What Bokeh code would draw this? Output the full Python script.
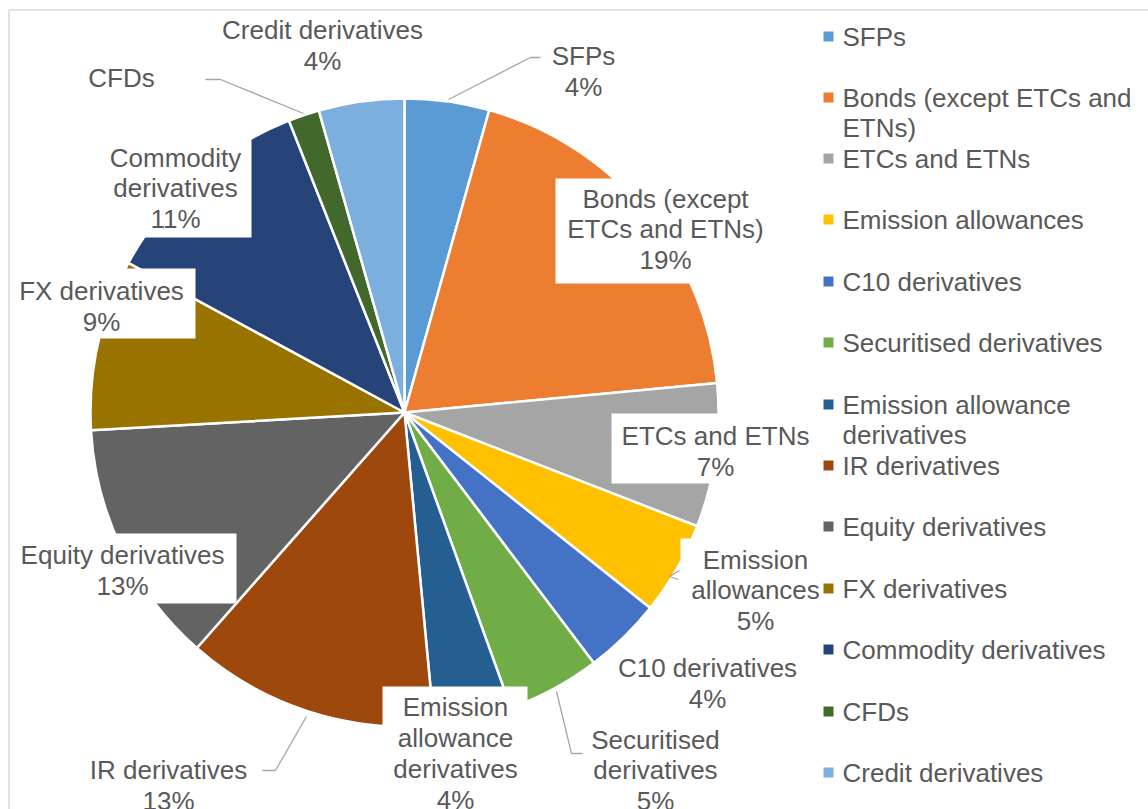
import numpy as np
from bokeh.plotting import figure
from bokeh.models import Range1d, ColumnDataSource
from bokeh.core.properties import value
from bokeh.embed import file_html
from bokeh.resources import INLINE

# ---------------- data ----------------
categories = ["SFPs", "Bonds (except ETCs and ETNs)", "ETCs and ETNs", "Emission allowances",
              "C10 derivatives", "Securitised derivatives", "Emission allowance derivatives",
              "IR derivatives", "Equity derivatives", "FX derivatives", "Commodity derivatives",
              "CFDs", "Credit derivatives"]
shares = [4.35, 19.15, 7.4, 4.8, 4.0, 4.8, 4.0, 13.0, 12.6, 8.8, 11.1, 1.6, 4.4]
colors = ["#5B9BD5", "#ED7D31", "#A5A5A5", "#FFC000", "#4472C4", "#70AD47", "#255E91",
          "#9E480E", "#636363", "#997300", "#264478", "#43682B", "#7CAFDD"]
# wrapped names used by data labels / legend
label_names = ["SFPs", "Bonds (except\nETCs and ETNs)", "ETCs and ETNs", "Emission\nallowances",
               "C10 derivatives", "Securitised\nderivatives", "Emission\nallowance\nderivatives",
               "IR derivatives", "Equity derivatives", "FX derivatives", "Commodity\nderivatives",
               "CFDs", "Credit derivatives"]
show_pct = [True] * 11 + [False, True]
legend_names = ["SFPs", "Bonds (except ETCs and\nETNs)", "ETCs and ETNs", "Emission allowances",
                "C10 derivatives", "Securitised derivatives", "Emission allowance\nderivatives",
                "IR derivatives", "Equity derivatives", "FX derivatives", "Commodity derivatives",
                "CFDs", "Credit derivatives"]

# ---------------- layout (page pixels) ----------------
W, H = 1148, 809
CX, CY, R = 404, 412, 314
label_xy = [(583, 71), (665, 229), (715, 451), (755, 590), (707, 683), (655, 770),
            (455, 753), (168, 785), (122, 570), (101, 306), (175, 188), (121, 77), (322, 45)]
label_boxes = [(555, 178, 775, 283), (611, 413, 818, 483), (680, 538, 830, 640),
               (613, 645, 800, 712), (382, 686, 527, 830), (10, 533, 236, 603),
               (10, 268, 195, 338), (95, 138, 251, 237)]
leaders = [([448, 530, 540], [99, 57, 57]),
           ([303, 220, 205], [113, 79, 79]),
           ([679, 669, 678], [570, 576, 579]),
           ([556, 571, 582], [691, 753, 753]),
           ([306, 275, 262], [716, 770, 770])]
legend_y = [36, 97, 158, 219, 281, 342, 404, 465, 526, 588, 649, 711, 772]
LEG_SQ_X, LEG_TX_X = 828, 842
FONT = value("Liberation Sans")
FS = value("26px")
TXT = "#595959"
LH = 1.03
LINE_PX = 31

p = figure(width=W, height=H, output_backend="svg", toolbar_location=None,
           x_range=Range1d(0, W), y_range=Range1d(-H, 0),
           min_border=0, x_axis_location=None, y_axis_location=None)
p.grid.visible = False
p.outline_line_color = None
p.background_fill_color = "white"
p.border_fill_color = "white"

# chart frame (top and left edges visible)
p.line(x=[8.5, W], y=[-9.5, -9.5], line_color="#D9D9D9", line_width=1.5)
p.line(x=[8.5, 8.5], y=[-9.5, -H], line_color="#D9D9D9", line_width=1.5)

# wedges
vals = np.array(shares, dtype=float)
frac = vals / vals.sum()
cum = np.concatenate([[0.0], np.cumsum(frac)])
start = np.pi / 2 - 2 * np.pi * cum[:-1]
end = np.pi / 2 - 2 * np.pi * cum[1:]
src = ColumnDataSource(dict(start=start, end=end, color=colors, cat=categories))
p.wedge(x=CX, y=-CY, radius=R, start_angle="start", end_angle="end", direction="clock",
        fill_color="color", line_color="white", line_width=2.5, source=src)

# leader lines
for xs, ys in leaders:
    p.line(x=xs, y=[-v for v in ys], line_color="#A6A6A6", line_width=1.3)

# label boxes
p.quad(left=[b[0] for b in label_boxes], right=[b[2] for b in label_boxes],
       top=[-b[1] for b in label_boxes], bottom=[-b[3] for b in label_boxes],
       fill_color="white", line_color=None)

# data labels
texts = []
for name, v, sp in zip(label_names, frac * 100, show_pct):
    texts.append(f"{name}\n{int(round(v))}%" if sp else name)
p.text(x=[xy[0] for xy in label_xy], y=[-xy[1] for xy in label_xy], text=texts,
       text_font=FONT, text_font_size=FS, text_color=TXT, text_align="center",
       text_baseline="middle", text_line_height=LH)

# legend
p.scatter(x=[LEG_SQ_X] * len(colors), y=[-v for v in legend_y], marker="square", size=10,
          fill_color=colors, line_color=None)
leg_y = []
for name, y0 in zip(legend_names, legend_y):
    n = name.count("\n")
    leg_y.append(-(y0 + n * LINE_PX / 2))
p.text(x=[LEG_TX_X] * len(legend_names), y=leg_y, text=legend_names,
       text_font=FONT, text_font_size=FS, text_color=TXT, text_align="left",
       text_baseline="middle", text_line_height=LH)

open("out.html", "w").write(file_html(p, INLINE))
